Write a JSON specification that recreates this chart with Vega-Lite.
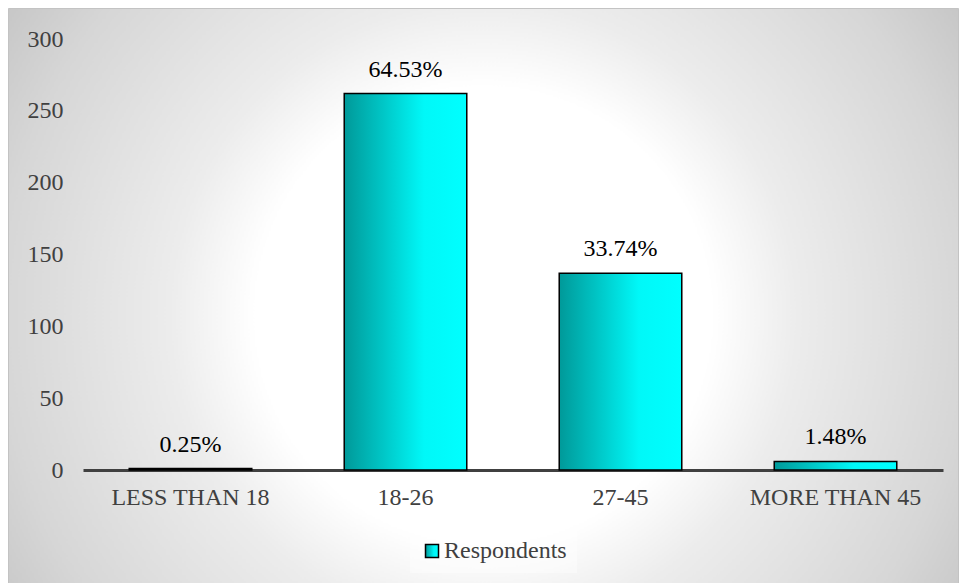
{
  "$schema": "https://vega.github.io/schema/vega-lite/v6.json",
  "width": 950,
  "height": 575,
  "autosize": {"type": "none"},
  "padding": {"left": 8, "top": 8, "right": 2, "bottom": 0},
  "background": "#ffffff",
  "config": {
    "font": "Liberation Serif, Times New Roman, serif",
    "text": {"font": "Liberation Serif, Times New Roman, serif"},
    "legend": {"labelFont": "Liberation Serif, Times New Roman, serif"},
    "view": {
      "fill": {"gradient": "radial", "x1": 0.5, "y1": 0.52, "r1": 0, "x2": 0.5, "y2": 0.52, "r2": 0.6,
        "stops": [
          {"offset": 0, "color": "#ffffff"},
          {"offset": 0.4, "color": "#ffffff"},
          {"offset": 0.55, "color": "#ececec"},
          {"offset": 0.85, "color": "#d6d6d6"},
          {"offset": 1, "color": "#c6c6c6"}
        ]},
      "stroke": "#c3c3c3",
      "strokeWidth": 1
    }
  },
  "data": {
    "values": [
      {"age": "LESS THAN 18", "count": 1, "pct": "0.25%", "series": "Respondents"},
      {"age": "18-26", "count": 262, "pct": "64.53%", "series": "Respondents"},
      {"age": "27-45", "count": 137, "pct": "33.74%", "series": "Respondents"},
      {"age": "MORE THAN 45", "count": 6, "pct": "1.48%", "series": "Respondents"}
    ]
  },
  "encoding": {
    "x": {
      "field": "age", "type": "nominal", "sort": null,
      "scale": {"range": [75, 935], "paddingInner": 0.43, "paddingOuter": 0.215},
      "axis": {
        "title": null, "labelAngle": 0, "offset": -113, "ticks": false, "tickSize": 0,
        "labelPadding": 15, "labelFont": "Liberation Serif, Times New Roman, serif", "labelFontSize": 24, "labelColor": "#404040",
        "domainColor": "#404040", "domainWidth": 3, "grid": false
      }
    },
    "y": {
      "field": "count", "type": "quantitative",
      "scale": {"domain": [0, 300], "range": [462, 31], "nice": false},
      "axis": {
        "title": null, "values": [0, 50, 100, 150, 200, 250, 300], "offset": -55,
        "ticks": false, "tickSize": 0, "labelPadding": 0, "domain": false, "grid": false,
        "labelFont": "Liberation Serif, Times New Roman, serif", "labelFontSize": 24, "labelColor": "#404040"
      }
    }
  },
  "layer": [
    {
      "mark": {
        "type": "bar",
        "fill": {"gradient": "linear", "x1": 0, "y1": 0, "x2": 1, "y2": 0,
          "stops": [
            {"offset": 0, "color": "#009999"},
            {"offset": 0.3, "color": "#00c4c4"},
            {"offset": 0.65, "color": "#00f8f8"},
            {"offset": 1, "color": "#00ffff"}
          ]},
        "strokeWidth": 1.5
      },
      "encoding": {
        "stroke": {
          "field": "series", "type": "nominal",
          "scale": {"range": ["#000000"]},
          "legend": {
            "title": null, "orient": "none", "legendX": 402, "legendY": 521,
            "padding": 10, "fillColor": "rgba(255,255,255,0.4)",
            "symbolType": "square", "symbolSize": 169, "symbolFillColor": "#00dede",
            "symbolStrokeWidth": 1.5, "labelFont": "Liberation Serif, Times New Roman, serif", "labelFontSize": 24, "labelColor": "#404040",
            "labelOffset": 0
          }
        }
      }
    },
    {
      "mark": {"type": "text", "dy": -17, "baseline": "alphabetic", "font": "Liberation Serif, Times New Roman, serif", "fontSize": 24, "color": "#000000"},
      "encoding": {"text": {"field": "pct"}}
    }
  ]
}
